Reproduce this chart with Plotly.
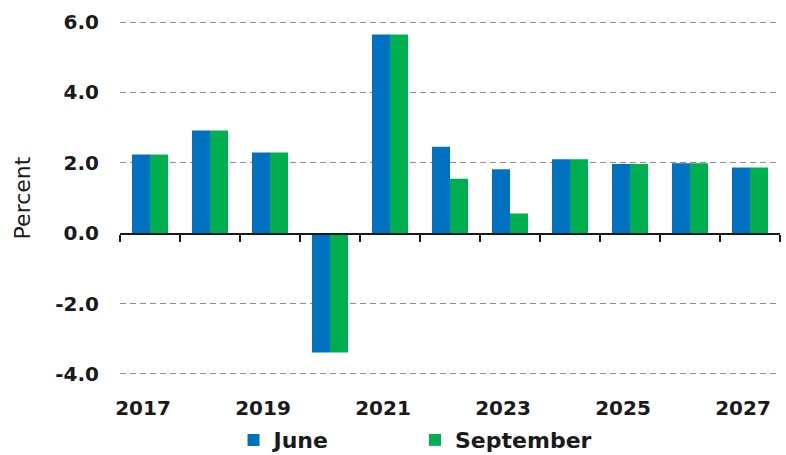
import plotly.graph_objects as go

years = [2017, 2018, 2019, 2020, 2021, 2022, 2023, 2024, 2025, 2026, 2027]
june = [2.24, 2.92, 2.29, -3.39, 5.65, 2.46, 1.82, 2.10, 1.97, 1.99, 1.87]
september = [2.24, 2.92, 2.29, -3.39, 5.65, 1.55, 0.56, 2.10, 1.97, 1.99, 1.87]
year_labels = [2017, 2019, 2021, 2023, 2025, 2027]
y_ticks = [-4, -2, 0, 2, 4, 6]

BLUE = "#0070C0"
GREEN = "#00B050"
FONT = "DejaVu Sans"

fig = go.Figure()
fig.add_trace(go.Bar(x=years, y=june, name="June", legend="legend",
                     marker=dict(color=BLUE, line=dict(width=0))))
fig.add_trace(go.Bar(x=years, y=september, name="September", legend="legend2",
                     marker=dict(color=GREEN, line=dict(width=0))))

xrange = [years[0] - 0.5, years[-1] + 0.5]
legend_font = dict(family=FONT, size=22, weight="bold", color="#1a1a1a")

fig.update_layout(
    width=786, height=455,
    margin=dict(l=120, r=6, t=20, b=79, autoexpand=False),
    paper_bgcolor="white", plot_bgcolor="white",
    barmode="group", bargap=0.4, bargroupgap=0,
    font=dict(family=FONT, color="#1a1a1a"),
    showlegend=True,
    legend=dict(x=0.172, xanchor="left", y=-0.18, yanchor="middle",
                font=legend_font, itemwidth=30),
    legend2=dict(x=0.447, xanchor="left", y=-0.18, yanchor="middle",
                 font=legend_font, itemwidth=30),
    # axis line + boundary ticks sit on the zero line
    xaxis=dict(
        range=xrange, anchor="free", position=0.4, automargin=False,
        showline=True, linecolor="#1a1a1a", linewidth=2,
        showticklabels=False, ticks="", showgrid=False, zeroline=False,
        tickvals=year_labels,
        minor=dict(ticks="outside", tick0=2016.5, dtick=1, ticklen=7,
                   tickcolor="#1a1a1a", tickwidth=2, showgrid=False),
    ),
    # labels only, at the bottom of the plot
    xaxis2=dict(
        range=xrange, overlaying="x", anchor="y", side="bottom", automargin=False,
        showline=False, ticks="", showgrid=False, zeroline=False,
        tickvals=year_labels, ticktext=[str(v) for v in year_labels],
        tickfont=dict(family=FONT, size=20, weight="bold"),
        ticklabelstandoff=18, ticklabelshift=-7,
    ),
    yaxis=dict(
        range=[-4.06, 6.06], tickvals=y_ticks, automargin=False,
        ticktext=[f"{v:.1f}" for v in y_ticks],
        tickfont=dict(family=FONT, size=20, weight="bold"),
        showgrid=True, gridcolor="#8c8c8c", gridwidth=1, griddash="6px,4px",
        zeroline=False, showline=False, ticks="", ticklabelstandoff=20,
        title=dict(text="Percent", font=dict(family=FONT, size=22), standoff=18),
    ),
)

# invisible trace so the label axis is drawn
fig.add_trace(go.Scatter(x=xrange, y=[None, None], xaxis="x2", showlegend=False,
                         hoverinfo="skip", mode="markers"))

# drop the page's default body margin so the figure fills the window
fig.write_html("out.html", config={"displayModeBar": False},
               post_script="document.body.style.margin='0';")
